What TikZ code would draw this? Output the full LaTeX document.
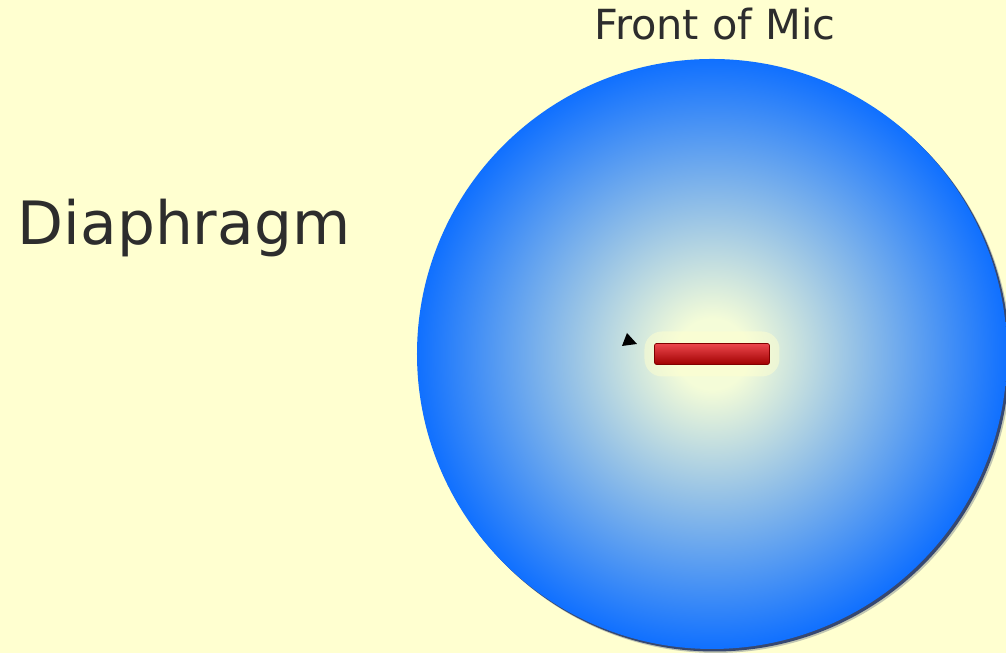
\documentclass[tikz,border=0pt]{standalone}
\usepackage{fontspec}
\setmainfont{DejaVu Sans}
\usetikzlibrary{positioning}
\definecolor{bgcol}{RGB}{255, 255, 208}
\definecolor{micblue}{RGB}{16, 112, 255}
\definecolor{midblue}{RGB}{150, 194, 230}
\definecolor{centrecol}{RGB}{244, 252, 216}
\definecolor{rimcol}{RGB}{10, 30, 90}
\definecolor{barred}{RGB}{230, 10, 18}
\definecolor{bardark}{RGB}{160, 0, 0}
\definecolor{labelcol}{RGB}{45, 45, 45}
\pgfdeclareradialshading{micglow}{\pgfpoint{0bp}{0bp}}{%
  color(0bp)=(centrecol); color(3bp)=(centrecol); color(12bp)=(midblue);
  color(25bp)=(micblue); color(50bp)=(micblue)}
\tikzset{
  label text/.style={text=labelcol, inner sep=0pt, anchor=base},
  capsule/.style={circle, inner sep=0pt, minimum size=5.9cm},
  bar/.style={rectangle, inner sep=0pt, minimum width=1.15cm, minimum height=0.21cm,
              top color=barred!75!white, middle color=barred, bottom color=bardark,
              draw=bardark!80!black, line width=0.2pt, rounded corners=0.6pt},
}

\begin{document}
\begin{tikzpicture}
  \fill[bgcol] (0,0) rectangle (10.06,6.53);
  \useasboundingbox (0,0) rectangle (10.06,6.53);

  % shadow under the capsule
  \fill[rimcol, opacity=0.25] (7.16,2.95) circle (2.95cm);
  \fill[rimcol, opacity=0.75] (7.145,2.965) circle (2.95cm);
  \node[capsule, shading=micglow] (mic) at (7.12,2.99) {};

  % diaphragm seen edge on
  \node[rectangle, fill=bgcol, opacity=0.5, rounded corners=5pt,
        minimum width=1.35cm, minimum height=0.45cm] (halo) at (mic.center) {};
  \node[bar] (diaph) at (mic.center) {};
  \fill[black] (6.22,3.07) -- (6.27,3.20) -- (6.37,3.09) -- cycle;

  \node[label text, font=\fontsize{17pt}{19pt}\selectfont] (name) at (1.84,4.08) {Diaphragm};
  \node[label text, font=\fontsize{11.8pt}{14pt}\selectfont] (front) at (7.15,6.13) {Front of Mic};
\end{tikzpicture}
\end{document}
